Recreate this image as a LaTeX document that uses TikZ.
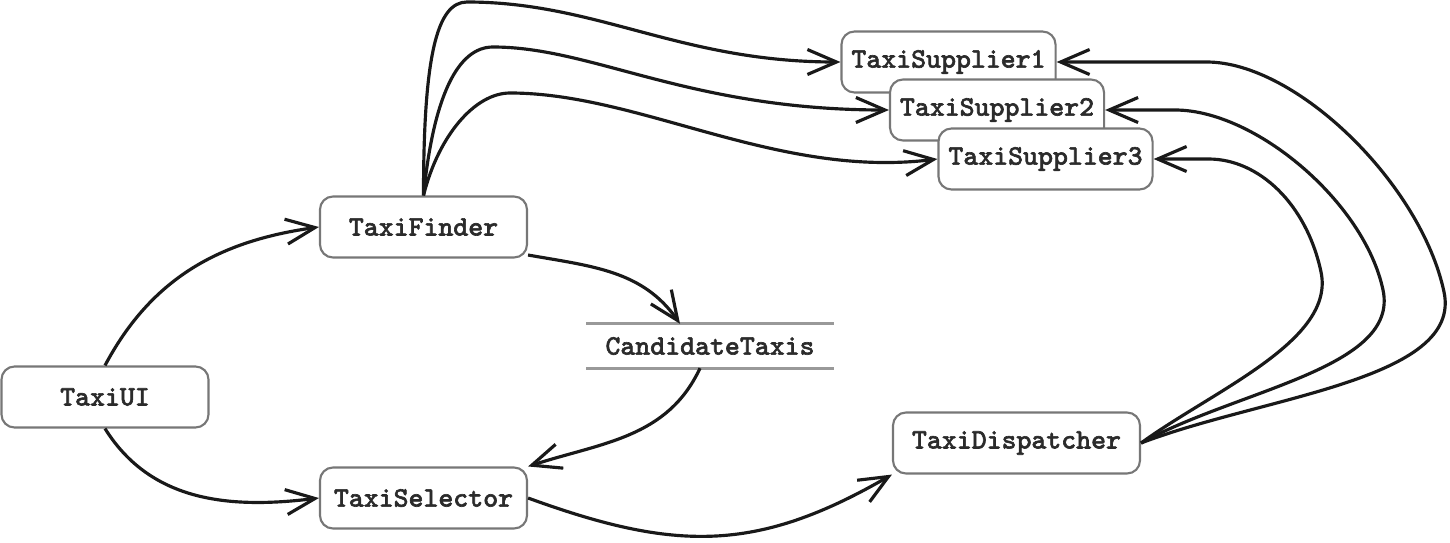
\documentclass[tikz,border=0pt]{standalone}
\usepackage{fontspec}
\newfontfamily\boxfont{Latin Modern Mono}[FakeBold=2.2]
\usepackage{xcolor}
\usepackage{tikz}
\usetikzlibrary{arrows.meta}
\definecolor{tborder}{HTML}{777777}
\definecolor{trule}{HTML}{999999}
\definecolor{ttext}{HTML}{2B2B2B}

\begin{document}
\begin{tikzpicture}[x=1cm, y=1cm,
  box/.style={draw=tborder, fill=white, line width=0.6pt, rounded corners=1.3mm,
    minimum width=2.07cm, minimum height=0.61cm, inner xsep=1mm,
    font=\fontsize{8}{9}\selectfont\boxfont, text=ttext},
  flow/.style={draw=black!90, line width=0.9pt, -{Straight Barb[length=2.9mm,width=2.5mm]}}]
\useasboundingbox (0,0) rectangle (14.5,5.42);
\node[box] (ui) at (1.05,1.45) {TaxiUI};
\node[box] (finder) at (4.235,3.15) {TaxiFinder};
\node[box] (selector) at (4.235,0.44) {TaxiSelector};
\node[font=\fontsize{8}{9}\selectfont\boxfont, text=ttext,
  minimum width=2.46cm, minimum height=0.43cm, inner sep=0pt] (cand) at (7.10,1.96) {CandidateTaxis};
\draw[trule, line width=0.8pt] (cand.north west) -- (cand.north east);
\draw[trule, line width=0.8pt] (cand.south west) -- (cand.south east);
\node[box, minimum width=2.47cm] (disp) at (10.165,0.99) {TaxiDispatcher};
\node[box] (s1) at (9.485,4.80) {TaxiSupplier1};
\node[box] (s2) at (9.97,4.32) {TaxiSupplier2};
\node[box] (s3) at (10.455,3.83) {TaxiSupplier3};
\coordinate (p1) at (4.67,5.40);
\coordinate (p2) at (4.93,4.95);
\coordinate (p3) at (5.10,4.49);
\coordinate (r1) at (14.44,2.50);
\coordinate (r2) at (13.83,2.52);
\coordinate (r3) at (13.21,2.70);
\draw[flow] (ui.north) to[out=62, in=188] (finder.west);
\draw[flow] (ui.south) to[out=-58, in=187] (selector.west);
\draw[flow] (finder.-15) to[out=-10, in=125] ([xshift=-3mm]cand.north);
\draw[flow] ([xshift=-1mm]cand.south) to[out=-115, in=18] (selector.north east);
\draw[flow] (selector.east) to[out=-20, in=210, looseness=1.1] (disp.south west);
\draw[flow] (finder.north) .. controls +(0,1.4) and +(-0.3,0) .. (p1)
  .. controls +(1.3,0) and +(-1.6,0) .. (s1.west);
\draw[flow] (finder.north) .. controls +(0.1,1.0) and +(-0.35,0) .. (p2)
  .. controls +(1.0,0) and +(-2.0,0) .. (s2.west);
\draw[flow] (finder.north) .. controls +(0.15,0.6) and +(-0.35,0) .. (p3)
  .. controls +(1.3,0) and +(-1.6,-0.2) .. (s3.west);
\draw[flow] (disp.east) to[out=36, in=-78, out distance=0.9cm, in distance=0.7cm] (r3)
  to[out=102, in=0, out distance=0.7cm, in distance=0.5cm] ([xshift=5.5mm]s3.east) -- (s3.east);
\draw[flow] (disp.east) to[out=29, in=-78, out distance=1.1cm, in distance=0.8cm] (r2)
  to[out=102, in=0, out distance=0.9cm, in distance=0.8cm] ([xshift=7mm]s2.east) -- (s2.east);
\draw[flow] (disp.east) to[out=21, in=-78, out distance=1.3cm, in distance=0.9cm] (r1)
  to[out=102, in=0, out distance=1.1cm, in distance=0.9cm] ([xshift=15mm]s1.east) -- (s1.east);
\end{tikzpicture}
\end{document}
